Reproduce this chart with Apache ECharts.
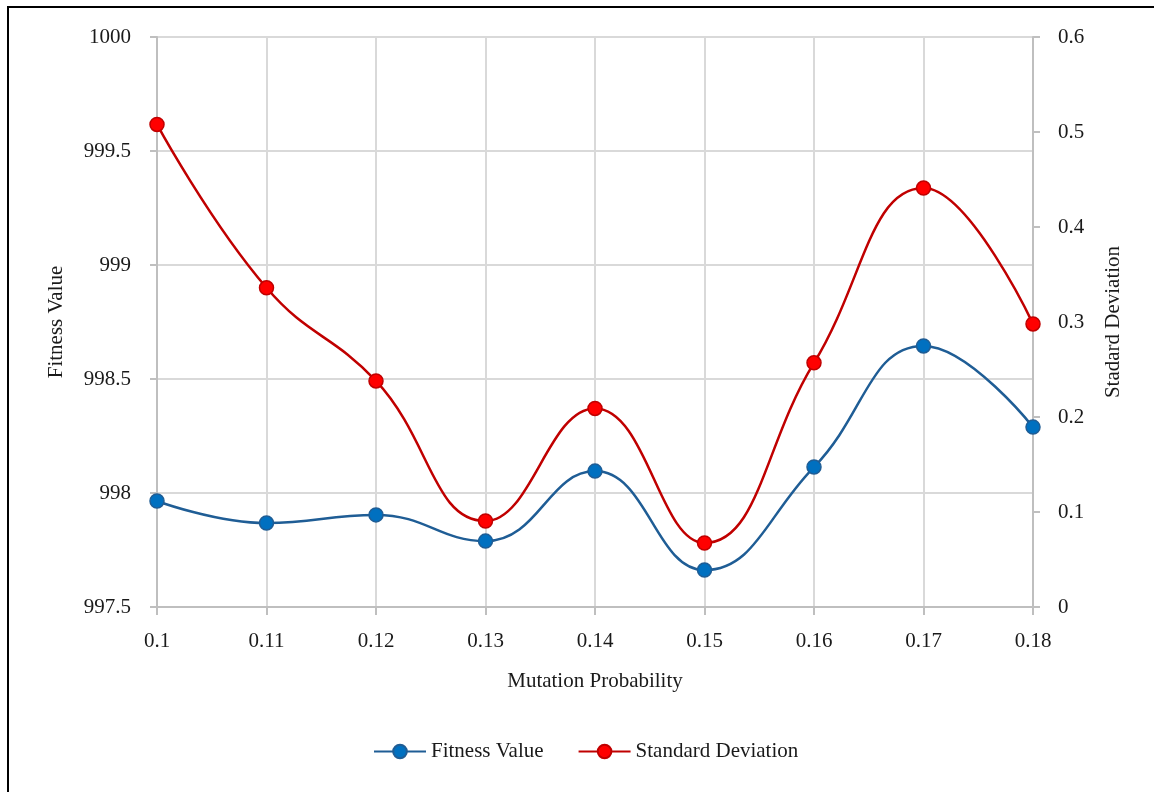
<!DOCTYPE html>
<html>
<head>
<meta charset="utf-8">
<script src="https://cdn.jsdelivr.net/npm/echarts@6/dist/echarts.min.js"></script>
<style>
  html, body { margin: 0; padding: 0; background: #fff; }
  #chart { width: 1154px; height: 792px; }
</style>
</head>
<body>
<div id="chart"></div>
<script>
// Mutation probability sweep: mean fitness and its standard deviation
const categories = ['0.1', '0.11', '0.12', '0.13', '0.14', '0.15', '0.16', '0.17', '0.18'];
const fitnessValue = [997.965, 997.868, 997.904, 997.789, 998.096, 997.662, 998.114, 998.645, 998.289];
const standardDeviation = [0.508, 0.336, 0.238, 0.0905, 0.209, 0.0674, 0.257, 0.441, 0.298];

const FONT = '"Liberation Serif", "DejaVu Serif", serif';
const TXT = '#1a1a1a';
const AXIS = '#bfbfbf';
const GRID = '#d9d9d9';
const FS = 21;

const chart = echarts.init(document.getElementById('chart'));
chart.setOption({
  animation: false,
  backgroundColor: '#fff',
  textStyle: { fontFamily: FONT, color: TXT },
  graphic: [{
    type: 'polyline',
    shape: { points: [[8, 800], [8, 7], [1160, 7]] },
    style: { stroke: '#000', lineWidth: 2, fill: null },
    silent: true
  }],
  grid: { left: 157, right: 121, top: 37, bottom: 185 },
  legend: {
    top: 736,
    left: 368,
    itemWidth: 52,
    itemHeight: 17,
    itemGap: 34,
    textStyle: { fontFamily: FONT, fontSize: FS, color: TXT },
    data: ['Fitness Value', 'Standard Deviation']
  },
  xAxis: {
    type: 'category',
    data: categories,
    boundaryGap: false,
    name: 'Mutation Probability',
    nameLocation: 'middle',
    nameGap: 64,
    nameTextStyle: { fontFamily: FONT, fontSize: FS, color: TXT },
    axisLine: { lineStyle: { color: AXIS, width: 2 } },
    axisTick: { show: true, length: 8, lineStyle: { color: AXIS, width: 2 } },
    axisLabel: { fontFamily: FONT, fontSize: FS, color: TXT, margin: 24 },
    splitLine: { show: true, lineStyle: { color: GRID, width: 2 } }
  },
  yAxis: [{
    type: 'value',
    min: 997.5,
    max: 1000,
    interval: 0.5,
    name: 'Fitness Value',
    nameLocation: 'middle',
    nameGap: 90,
    nameTextStyle: { fontFamily: FONT, fontSize: FS, color: TXT },
    axisLine: { show: true, lineStyle: { color: AXIS, width: 2 } },
    axisTick: { show: true, length: 7, lineStyle: { color: AXIS, width: 2 } },
    axisLabel: { fontFamily: FONT, fontSize: FS, color: TXT, margin: 26, formatter: v => String(v) },
    splitLine: { show: true, lineStyle: { color: GRID, width: 2 } }
  }, {
    type: 'value',
    min: 0,
    max: 0.6,
    interval: 0.1,
    name: 'Stadard Deviation',
    nameLocation: 'middle',
    nameGap: 70,
    nameRotate: 90,
    nameTextStyle: { fontFamily: FONT, fontSize: FS, color: TXT },
    axisLine: { show: true, lineStyle: { color: AXIS, width: 2 } },
    axisTick: { show: true, length: 7, lineStyle: { color: AXIS, width: 2 } },
    axisLabel: { fontFamily: FONT, fontSize: FS, color: TXT, margin: 25, formatter: v => String(v) },
    splitLine: { show: false }
  }],
  series: [{
    name: 'Fitness Value',
    type: 'line',
    yAxisIndex: 0,
    data: fitnessValue,
    smooth: 0.45,
    symbol: 'circle',
    symbolSize: 14,
    lineStyle: { color: '#1f5d95', width: 2.5 },
    itemStyle: { color: '#0070c0', borderColor: '#1f5d95', borderWidth: 1.5 },
    z: 3
  }, {
    name: 'Standard Deviation',
    type: 'line',
    yAxisIndex: 1,
    data: standardDeviation,
    smooth: 0.45,
    symbol: 'circle',
    symbolSize: 14,
    lineStyle: { color: '#c00000', width: 2.5 },
    itemStyle: { color: '#ff0000', borderColor: '#c00000', borderWidth: 1.5 },
    z: 4
  }]
});
</script>
</body>
</html>
